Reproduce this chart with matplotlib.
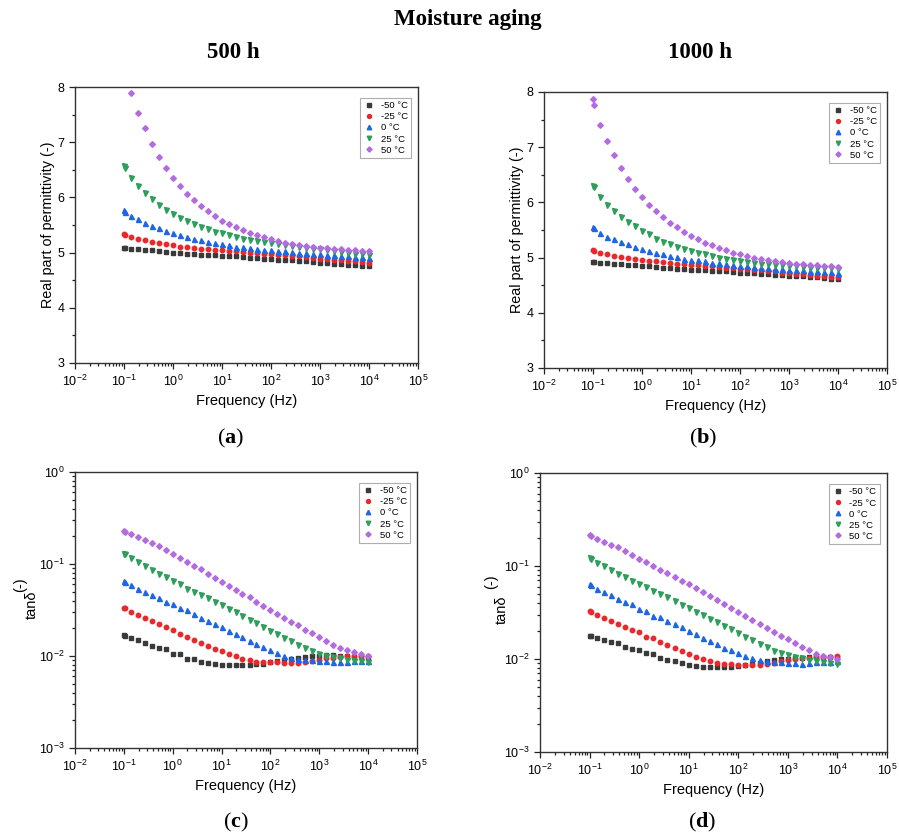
import numpy as np
import matplotlib
matplotlib.use("Agg")
import matplotlib.pyplot as plt
from matplotlib.ticker import LogLocator, MultipleLocator, NullFormatter

plt.rcParams['font.family'] = ['Liberation Sans', 'DejaVu Sans']
plt.rcParams['mathtext.fontset'] = 'custom'
plt.rcParams['mathtext.rm'] = 'Liberation Sans'
plt.rcParams['mathtext.bf'] = 'Liberation Serif:bold'

# ---------------- data ----------------
freq = [0.1, 0.105, 0.139, 0.193, 0.268, 0.373, 0.518, 0.72,
        1.0, 1.39, 1.93, 2.68, 3.73, 5.18, 7.2,
        10, 13.9, 19.3, 26.8, 37.3, 51.8, 72,
        100, 139, 193, 268, 373, 518, 720,
        1000, 1390, 1930, 2680, 3730, 5180, 7200, 10000]

temps = ['-50 °C', '-25 °C', '0 °C', '25 °C', '50 °C']

# (a) real part, 500 h
eps_500_m50 = [5.09, 5.08, 5.07, 5.06, 5.05, 5.04, 5.03, 5.01,
               5.00, 4.99, 4.98, 4.97, 4.96, 4.96, 4.95,
               4.94, 4.93, 4.93, 4.92, 4.91, 4.90, 4.89,
               4.88, 4.87, 4.87, 4.86, 4.85, 4.84, 4.83,
               4.82, 4.81, 4.80, 4.79, 4.78, 4.77, 4.76, 4.75]
eps_500_m25 = [5.33, 5.32, 5.28, 5.25, 5.22, 5.19, 5.17, 5.15,
               5.13, 5.11, 5.10, 5.08, 5.07, 5.06, 5.05,
               5.04, 5.03, 5.02, 5.01, 5.00, 4.99, 4.98,
               4.97, 4.96, 4.95, 4.94, 4.93, 4.92, 4.91,
               4.89, 4.88, 4.87, 4.86, 4.85, 4.84, 4.83, 4.82]
eps_500_0 = [5.77, 5.74, 5.67, 5.60, 5.54, 5.49, 5.44, 5.39,
             5.35, 5.31, 5.28, 5.25, 5.22, 5.20, 5.17,
             5.15, 5.13, 5.11, 5.10, 5.08, 5.07, 5.05,
             5.04, 5.03, 5.02, 5.01, 5.00, 4.99, 4.98,
             4.97, 4.96, 4.95, 4.94, 4.93, 4.92, 4.92, 4.91]
eps_500_25 = [6.57, 6.53, 6.35, 6.20, 6.08, 5.97, 5.87, 5.78,
              5.70, 5.63, 5.57, 5.51, 5.46, 5.42, 5.38,
              5.35, 5.31, 5.28, 5.25, 5.23, 5.21, 5.19,
              5.17, 5.15, 5.13, 5.12, 5.10, 5.09, 5.07,
              5.06, 5.04, 5.03, 5.01, 5.00, 4.98, 4.97, 4.96]
eps_500_50 = [8.45, 8.30, 7.89, 7.53, 7.25, 6.97, 6.74, 6.53,
              6.36, 6.21, 6.07, 5.95, 5.84, 5.75, 5.66,
              5.58, 5.52, 5.47, 5.41, 5.36, 5.32, 5.28,
              5.25, 5.21, 5.18, 5.16, 5.14, 5.12, 5.10,
              5.09, 5.08, 5.07, 5.06, 5.05, 5.04, 5.03, 5.02]

# (b) real part, 1000 h
eps_1000_m50 = [4.92, 4.92, 4.91, 4.90, 4.89, 4.88, 4.87, 4.86,
                4.85, 4.84, 4.83, 4.82, 4.81, 4.80, 4.79,
                4.78, 4.78, 4.77, 4.76, 4.76, 4.75, 4.74,
                4.73, 4.72, 4.72, 4.71, 4.70, 4.69, 4.68,
                4.67, 4.66, 4.66, 4.65, 4.64, 4.63, 4.62, 4.61]
eps_1000_m25 = [5.13, 5.12, 5.09, 5.06, 5.03, 5.01, 4.99, 4.97,
                4.96, 4.94, 4.93, 4.92, 4.91, 4.89, 4.88,
                4.87, 4.86, 4.85, 4.84, 4.83, 4.82, 4.81,
                4.80, 4.79, 4.78, 4.77, 4.76, 4.75, 4.73,
                4.72, 4.71, 4.70, 4.69, 4.67, 4.66, 4.65, 4.64]
eps_1000_0 = [5.55, 5.53, 5.45, 5.38, 5.33, 5.28, 5.24, 5.20,
              5.16, 5.12, 5.09, 5.06, 5.03, 5.01, 4.98,
              4.96, 4.95, 4.93, 4.91, 4.90, 4.88, 4.87,
              4.85, 4.84, 4.83, 4.82, 4.81, 4.80, 4.79,
              4.78, 4.77, 4.77, 4.76, 4.75, 4.74, 4.74, 4.73]
eps_1000_25 = [6.30, 6.27, 6.10, 5.96, 5.84, 5.74, 5.65, 5.57,
               5.48, 5.42, 5.34, 5.29, 5.25, 5.20, 5.16,
               5.12, 5.09, 5.06, 5.03, 5.00, 4.98, 4.96,
               4.94, 4.92, 4.91, 4.89, 4.88, 4.87, 4.86,
               4.85, 4.84, 4.83, 4.82, 4.82, 4.81, 4.81, 4.80]
eps_1000_50 = [7.87, 7.77, 7.41, 7.11, 6.86, 6.63, 6.43, 6.25,
               6.10, 5.96, 5.84, 5.74, 5.63, 5.55, 5.46,
               5.40, 5.33, 5.27, 5.22, 5.17, 5.13, 5.09,
               5.06, 5.03, 5.00, 4.98, 4.96, 4.94, 4.92,
               4.90, 4.89, 4.88, 4.87, 4.86, 4.85, 4.84, 4.83]

# (c) tan delta, 500 h
tan_500_m50 = [0.0168, 0.0167, 0.0155, 0.0148, 0.0138, 0.0129, 0.0121, 0.0118,
               0.0105, 0.0104, 0.0093, 0.0092, 0.0087, 0.0083, 0.0082,
               0.0080, 0.0079, 0.0079, 0.0079, 0.0080, 0.0082, 0.0082,
               0.0085, 0.0088, 0.0091, 0.0093, 0.0096, 0.0098, 0.0100,
               0.0101, 0.0102, 0.0102, 0.0101, 0.0100, 0.0098, 0.0097, 0.0096]
tan_500_m25 = [0.0335, 0.0330, 0.0300, 0.0279, 0.0256, 0.0240, 0.0222, 0.0206,
               0.0191, 0.0174, 0.0160, 0.0150, 0.0140, 0.0130, 0.0120,
               0.0112, 0.0105, 0.0100, 0.0093, 0.0090, 0.0087, 0.0086,
               0.0085, 0.0085, 0.0084, 0.0083, 0.0084, 0.0086, 0.0089,
               0.0091, 0.0094, 0.0095, 0.0097, 0.0099, 0.0100, 0.0100, 0.0101]
tan_500_0 = [0.0648, 0.0640, 0.0586, 0.0540, 0.0496, 0.0460, 0.0423, 0.0390,
             0.0364, 0.0332, 0.0313, 0.0283, 0.0260, 0.0240, 0.0222,
             0.0205, 0.0188, 0.0174, 0.0159, 0.0146, 0.0136, 0.0125,
             0.0115, 0.0108, 0.0101, 0.0096, 0.0093, 0.0091, 0.0090,
             0.0089, 0.0089, 0.0086, 0.0087, 0.0087, 0.0088, 0.0088, 0.0089]
tan_500_25 = [0.129, 0.127, 0.115, 0.104, 0.096, 0.087, 0.0785, 0.0722,
              0.0654, 0.060, 0.054, 0.0496, 0.046, 0.0423, 0.039,
              0.0355, 0.0327, 0.030, 0.0274, 0.0249, 0.0226, 0.0205,
              0.0188, 0.0174, 0.0157, 0.0144, 0.0133, 0.0122, 0.0112,
              0.0105, 0.0100, 0.0097, 0.0094, 0.0091, 0.0089, 0.0088, 0.0086]
tan_500_50 = [0.226, 0.225, 0.212, 0.198, 0.184, 0.171, 0.156, 0.143,
              0.128, 0.117, 0.106, 0.096, 0.0875, 0.0785, 0.071,
              0.0642, 0.058, 0.0526, 0.0476, 0.0434, 0.0389, 0.0352,
              0.0319, 0.0288, 0.026, 0.0236, 0.0215, 0.0193, 0.0176,
              0.0159, 0.0144, 0.0133, 0.0123, 0.0115, 0.0110, 0.0105, 0.0100]

# (d) tan delta, 1000 h
tan_1000_m50 = [0.0178, 0.0177, 0.0170, 0.0162, 0.0154, 0.0147, 0.0136, 0.0127,
                0.0124, 0.0117, 0.0112, 0.0103, 0.0098, 0.0094, 0.0091,
                0.0087, 0.0085, 0.0083, 0.0083, 0.0083, 0.0082, 0.0082,
                0.0084, 0.0086, 0.0089, 0.0091, 0.0095, 0.0097, 0.0099,
                0.0101, 0.0103, 0.0103, 0.0104, 0.0105, 0.0106, 0.0105, 0.0104]
tan_1000_m25 = [0.0328, 0.0323, 0.0297, 0.0276, 0.0254, 0.0238, 0.0219, 0.0204,
                0.0194, 0.0174, 0.0170, 0.0151, 0.0141, 0.0130, 0.0121,
                0.0113, 0.0106, 0.0100, 0.0095, 0.0091, 0.0089, 0.0088,
                0.0087, 0.0086, 0.0086, 0.0086, 0.0088, 0.0091, 0.0095,
                0.0098, 0.0100, 0.0102, 0.0103, 0.0105, 0.0106, 0.0106, 0.0107]
tan_1000_0 = [0.0636, 0.0625, 0.0571, 0.0526, 0.0488, 0.0446, 0.0414, 0.0387,
              0.0348, 0.0328, 0.0293, 0.0281, 0.0258, 0.0236, 0.0219,
              0.0202, 0.0186, 0.0170, 0.0155, 0.0144, 0.0132, 0.0124,
              0.0115, 0.0107, 0.0102, 0.0098, 0.0095, 0.0093, 0.0092,
              0.0091, 0.0091, 0.0088, 0.0091, 0.0092, 0.0092, 0.0093, 0.0094]
tan_1000_25 = [0.121, 0.119, 0.107, 0.099, 0.0906, 0.0820, 0.0756, 0.0696,
               0.064, 0.0595, 0.054, 0.050, 0.0468, 0.0417, 0.0384,
               0.0354, 0.0324, 0.0295, 0.027, 0.0248, 0.0227, 0.0209,
               0.019, 0.0174, 0.0159, 0.0145, 0.0134, 0.0121, 0.0115,
               0.0110, 0.0106, 0.0102, 0.0098, 0.0095, 0.0093, 0.0090, 0.0088]
tan_1000_50 = [0.214, 0.212, 0.197, 0.183, 0.170, 0.160, 0.1437, 0.131,
               0.120, 0.1095, 0.0992, 0.0913, 0.0834, 0.0762, 0.0696,
               0.0635, 0.058, 0.0526, 0.048, 0.0435, 0.039, 0.0354,
               0.0321, 0.029, 0.0261, 0.0236, 0.0214, 0.0194, 0.0177,
               0.0163, 0.0148, 0.0135, 0.0124, 0.0113, 0.0108, 0.0104, 0.0101]

panels = [
    [eps_500_m50, eps_500_m25, eps_500_0, eps_500_25, eps_500_50],
    [eps_1000_m50, eps_1000_m25, eps_1000_0, eps_1000_25, eps_1000_50],
    [tan_500_m50, tan_500_m25, tan_500_0, tan_500_25, tan_500_50],
    [tan_1000_m50, tan_1000_m25, tan_1000_0, tan_1000_25, tan_1000_50],
]

colors = ['#3a3a3a', '#e8282a', '#1f66e5', '#2e9e5b', '#b36be0']
markers = ['s', 'o', '^', 'v', 'D']
msizes = [3.0, 3.2, 3.6, 3.6, 2.9]

W, H = 899, 834
fig = plt.figure(figsize=(W / 100, H / 100), dpi=100)

def rect(l, t, r, b):
    return [l / W, 1 - b / H, (r - l) / W, (b - t) / H]

rects = [rect(75, 87, 418, 363), rect(544, 92, 887, 368),
         rect(75, 472, 417, 748), rect(540, 473, 887, 752)]

for i, (series, rc) in enumerate(zip(panels, rects)):
    ax = fig.add_axes(rc)
    for j in range(5):
        ax.plot(freq, series[j], linestyle='none', marker=markers[j],
                ms=msizes[j], color=colors[j], mec=colors[j],
                label=temps[j], clip_on=True)
    ax.set_xscale('log')
    ax.set_xlim(1e-2, 1e5)
    ax.xaxis.set_major_locator(LogLocator(base=10, numticks=10))
    ax.xaxis.set_minor_locator(LogLocator(base=10, subs=np.arange(2, 10), numticks=20))
    ax.xaxis.set_minor_formatter(NullFormatter())
    if i < 2:
        ax.set_ylim(3, 8)
        ax.yaxis.set_major_locator(MultipleLocator(1))
        ax.yaxis.set_minor_locator(MultipleLocator(0.5))
        ax.set_ylabel('Real part of permittivity (-)', fontsize=10.4, labelpad=2)
    else:
        ax.set_yscale('log')
        ax.set_ylim(1e-3, 1)
        ax.yaxis.set_major_locator(LogLocator(base=10, numticks=10))
        ax.yaxis.set_minor_locator(LogLocator(base=10, subs=np.arange(2, 10), numticks=20))
        ax.yaxis.set_minor_formatter(NullFormatter())
    ax.set_xlabel('Frequency (Hz)', fontsize=10.5, labelpad=4)
    ax.tick_params(which='both', direction='out', top=False, right=False,
                   labelsize=9, width=0.9, color='#222222')
    ax.tick_params(which='major', length=4)
    ax.tick_params(which='minor', length=2.2)
    for sp in ax.spines.values():
        sp.set_linewidth(1.0)
        sp.set_color('#333333')
    leg = ax.legend(loc='upper right', bbox_to_anchor=(1 - 7 / 343, 1 - 11 / 276),
                    borderaxespad=0, fontsize=6.8, frameon=True, fancybox=False,
                    handlelength=1.2, handletextpad=0.6, borderpad=0.35,
                    labelspacing=0.22, markerscale=0.9)
    leg.get_frame().set_edgecolor('#9a9a9a')
    leg.get_frame().set_linewidth(0.8)

# tan delta labels
for (xt, yt, xp, yp) in [(32, 605, 20, 585), (502, 610, 491, 582)]:
    fig.text(xt / W, 1 - yt / H, 'tanδ', rotation=90, ha='center', va='center', fontsize=10.5)
    fig.text(xp / W, 1 - yp / H, '(-)', rotation=90, ha='center', va='center', fontsize=10.5)

serif = ['Liberation Serif', 'DejaVu Serif']
fig.text(468 / W, 1 - 20 / H, 'Moisture aging', ha='center', va='center',
         fontsize=16.5, fontweight='bold', family=serif)
fig.text(233 / W, 1 - 52 / H, '500 h', ha='center', va='center',
         fontsize=16.5, fontweight='bold', family=serif)
fig.text(700 / W, 1 - 52 / H, '1000 h', ha='center', va='center',
         fontsize=16.5, fontweight='bold', family=serif)

for lab, x, y in [('a', 231, 438), ('b', 703, 438), ('c', 236, 822), ('d', 702, 822)]:
    fig.text(x / W, 1 - y / H, r'$\mathdefault{(}\mathbf{%s}\mathdefault{)}$' % lab,
             ha='center', va='center', fontsize=16, family=serif)

fig.savefig('out.png', dpi=100)
